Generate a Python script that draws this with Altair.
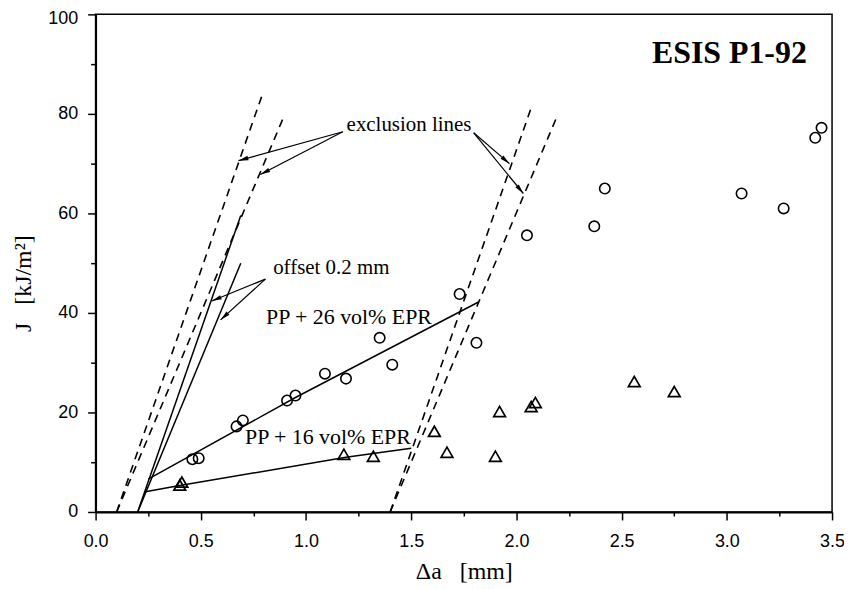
import math
import pandas as pd
import altair as alt

# ---------------- data ----------------
# PP + 26 vol% EPR (circles)
c26_da = [0.46, 0.49, 0.67, 0.70, 0.91, 0.95, 1.09, 1.19, 1.35, 1.41, 1.73, 1.81,
          2.05, 2.37, 2.42, 3.07, 3.27, 3.42, 3.45]
c26_j = [10.6, 10.8, 17.2, 18.4, 22.4, 23.4, 27.8, 26.8, 35.0, 29.6, 43.8, 34.0,
         55.6, 57.4, 65.0, 64.0, 61.0, 75.2, 77.2]

# PP + 16 vol% EPR (triangles)
t16_da = [0.40, 0.41, 1.18, 1.32, 1.61, 1.67, 1.90, 1.92, 2.07, 2.09, 2.56, 2.75]
t16_j = [5.4, 6.0, 11.6, 11.2, 16.2, 12.0, 11.2, 20.2, 21.2, 22.0, 26.2, 24.2]

# fitted R-curves
fit26_da = [0.25, 0.95, 1.82]
fit26_j = [6.6, 23.0, 42.2]
fit16_da = [0.23, 0.40, 1.19, 1.50]
fit16_j = [4.0, 5.3, 11.0, 12.8]

# blunting-offset lines (solid, offset 0.2 mm)
off_names = ["offA", "offA", "offB", "offB"]
off_da = [0.20, 0.69, 0.20, 0.69]
off_j = [0.0, 59.6, 0.0, 50.0]

# exclusion lines (dashed)
exc_names = ["e1", "e1", "e2", "e2", "e3", "e3", "e4", "e4"]
exc_da = [0.10, 0.79, 0.10, 0.89, 1.40, 2.07, 1.40, 2.19]
exc_j = [0.0, 83.6, 0.0, 79.0, 0.0, 81.2, 0.0, 79.2]

# annotation arrows (tail -> head), data coordinates
arr_x = [1.175, 1.175, 1.797, 1.797, 0.807, 0.807]
arr_y = [76.4, 76.4, 76.2, 76.2, 46.8, 46.8]
arr_x2 = [0.679, 0.783, 1.967, 2.033, 0.552, 0.594]
arr_y2 = [70.6, 67.8, 70.0, 64.0, 42.4, 38.6]

X_DOMAIN = [0, 3.5]
Y_DOMAIN = [0, 100]
W, H = 740, 500
NB = "\u00a0"

# ---------------- encodings ----------------
x_axis = alt.Axis(
    values=[i * 0.25 for i in range(15)],
    format=".1f",
    labelExpr="datum.value % 0.5 === 0 ? datum.label : ''",
    tickSize={"condition": {"test": "datum.value % 0.5 !== 0", "value": 4}, "value": 8},
    grid=False,
    labelFlush=False,
    labelOverlap=False,
    labelPadding=13,
    titlePadding=9,
    title=f"Δa{NB}{NB}{NB}[mm]",
)
y_axis = alt.Axis(
    values=[i * 10 for i in range(11)],
    format="d",
    labelExpr="datum.value % 20 === 0 ? datum.label : ''",
    tickSize={"condition": {"test": "datum.value % 20 !== 0", "value": 5}, "value": 8},
    labelOffset={"condition": {"test": "datum.value === 100", "value": 4}, "value": 0},
    grid=False,
    labelFlush=False,
    labelOverlap=False,
    labelPadding=10,
    titlePadding=12,
    titleY=270,
    title=f"J{NB}{NB}{NB}[kJ/m²]",
)


def X(field="x"):
    return alt.X(f"{field}:Q", scale=alt.Scale(domain=X_DOMAIN, nice=False, zero=False), axis=x_axis)


def Y(field="y"):
    return alt.Y(f"{field}:Q", scale=alt.Scale(domain=Y_DOMAIN, nice=False, zero=False), axis=y_axis)


# ---------------- layers ----------------
exc_df = pd.DataFrame({"x": exc_da, "y": exc_j, "line": exc_names})
dashed = alt.Chart(exc_df).mark_line(color="black", strokeDash=[8, 6], strokeWidth=1.6).encode(
    x=X(), y=Y(), detail="line:N")

off_df = pd.DataFrame({"x": off_da, "y": off_j, "line": off_names})
offset = alt.Chart(off_df).mark_line(color="black", strokeWidth=1.5).encode(
    x=X(), y=Y(), detail="line:N")

fit_df = pd.DataFrame({
    "x": fit26_da + fit16_da,
    "y": fit26_j + fit16_j,
    "line": ["f26"] * len(fit26_da) + ["f16"] * len(fit16_da),
})
fits = alt.Chart(fit_df).mark_line(color="black", strokeWidth=1.5).encode(
    x=X(), y=Y(), detail="line:N")

circ = alt.Chart(pd.DataFrame({"x": c26_da, "y": c26_j})).mark_point(
    shape="circle", filled=False, color="black", size=110, strokeWidth=1.6, opacity=1
).encode(x=X(), y=Y())

tri = alt.Chart(pd.DataFrame({"x": t16_da, "y": t16_j})).mark_point(
    shape="triangle-up", filled=False, color="black", size=140, strokeWidth=1.7, opacity=1
).encode(x=X(), y=Y())

# arrows
kx = W / (X_DOMAIN[1] - X_DOMAIN[0])
ky = H / (Y_DOMAIN[1] - Y_DOMAIN[0])
angles = []
for xt, yt, xh, yh in zip(arr_x, arr_y, arr_x2, arr_y2):
    dx = (xh - xt) * kx
    dy = -(yh - yt) * ky
    angles.append(math.degrees(math.atan2(dx, -dy)) % 360)

arr_df = pd.DataFrame({"x": arr_x, "y": arr_y, "x2": arr_x2, "y2": arr_y2, "ang": angles})
shafts = alt.Chart(arr_df).mark_rule(color="black", strokeWidth=1.2).encode(
    x=X(), y=Y(), x2="x2:Q", y2="y2:Q")
heads = alt.Chart(arr_df).mark_point(
    shape="M0,0L0.45,2L-0.45,2Z", filled=True, color="black", size=100, opacity=1, strokeWidth=0
).encode(x=X("x2"), y=Y("y2"), angle=alt.Angle("ang:Q", scale=None))


def label(txt, x, y, size, weight="normal", align="left"):
    return alt.Chart(pd.DataFrame({"x": [x], "y": [y], "t": [txt]})).mark_text(
        font="Liberation Serif", fontSize=size, fontWeight=weight, align=align,
        baseline="middle", color="black"
    ).encode(x=X(), y=Y(), text="t:N")


texts = [
    label("exclusion lines", 1.193, 77.8, 21),
    label("offset 0.2 mm", 0.844, 49.0, 21),
    label("PP + 26 vol% EPR", 0.81, 39.2, 22),
    label("PP + 16 vol% EPR", 0.71, 15.0, 22),
    label("ESIS P1-92", 3.38, 92.2, 32, weight="bold", align="right"),
]

chart = alt.layer(dashed, offset, fits, circ, tri, shafts, heads, *texts).properties(
    width=W, height=H,
    autosize=alt.AutoSizeParams(type="none"),
    padding={"left": 88, "top": 5, "right": 12, "bottom": 76},
).configure_view(
    stroke="black", strokeWidth=1.5
).configure_axis(
    domainColor="black", domainWidth=2, tickColor="black", tickWidth=1.5,
    labelFont="Liberation Sans", labelFontSize=18, labelColor="black",
    titleFont="Liberation Serif", titleFontSize=24, titleFontWeight="normal", titleColor="black",
)

chart.save("out.html", embed_options={"renderer": "svg", "actions": False})
